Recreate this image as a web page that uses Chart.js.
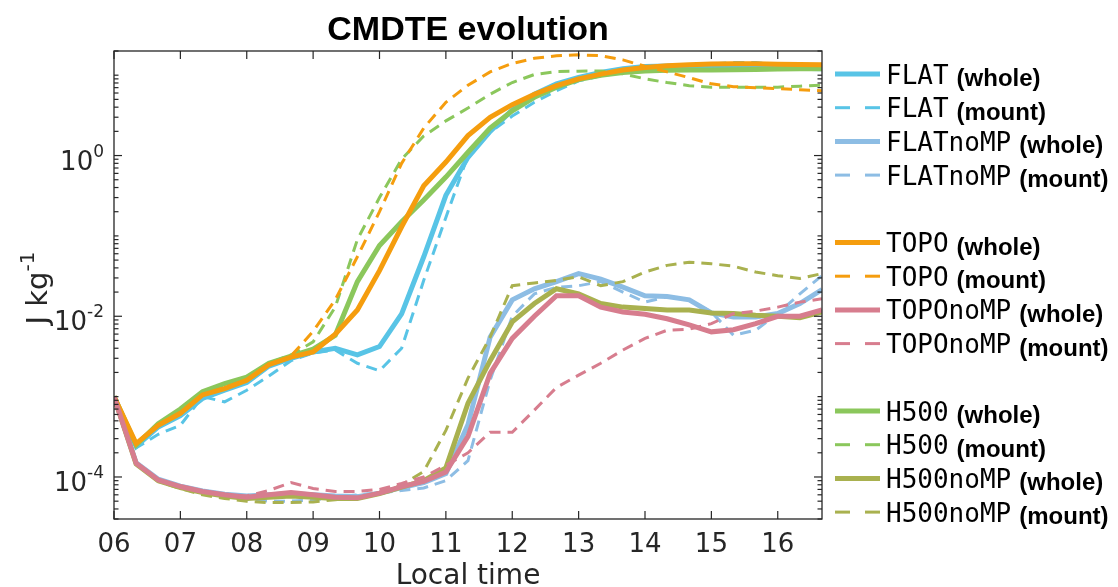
<!DOCTYPE html>
<html>
<head>
<meta charset="utf-8">
<title>CMDTE evolution</title>
<script src="https://cdn.jsdelivr.net/npm/chart.js@4.4.1/dist/chart.umd.min.js"></script>
<style>
  html, body { margin: 0; padding: 0; background: #fff; }
  #wrap { width: 1118px; height: 587px; }
</style>
</head>
<body>
<div id="wrap"><canvas id="grafico" width="1118" height="587"></canvas></div>
<script>
// horários (a cada 20 min)
const horarios = ['06:00','06:20','06:40','07:00','07:20','07:40','08:00','08:20','08:40',
  '09:00','09:20','09:40','10:00','10:20','10:40','11:00','11:20','11:40','12:00','12:20',
  '12:40','13:00','13:20','13:40','14:00','14:20','14:40','15:00','15:20','15:40','16:00',
  '16:20','16:40'];

// CMDTE (J/kg) por simulação
const flatWhole = [1.0e-3, 2.4e-4, 4.2e-4, 5.8e-4, 9.5e-4, 1.2e-3, 1.5e-3, 2.4e-3, 3.0e-3, 3.6e-3, 4.0e-3,
  3.3e-3, 4.2e-3, 1.07e-2, 5.5e-2, 0.32, 0.95, 2.0, 3.7, 5.8, 7.8, 9.4, 10.8, 12.0, 12.8, 13.0, 13.2,
  13.2, 13.2, 13.0, 12.6, 12.2, 12.0];
const flatMount = [1.0e-3, 2.3e-4, 3.4e-4, 4.4e-4, 1.0e-3, 8.6e-4, 1.2e-3, 1.8e-3, 2.8e-3, 3.5e-3, 3.8e-3,
  2.6e-3, 2.1e-3, 4.0e-3, 2.8e-2, 0.17, 1.0, 1.95, 3.1, 4.6, 6.4, 8.5, 9.8, 10.8, 12.0, 12.8, 13.3,
  13.8, 14.4, 14.4, 13.5, 12.8, 12.5];
const flatNoMPWhole = [1.0e-3, 1.5e-4, 9.4e-5, 7.7e-5, 6.7e-5, 6.1e-5, 5.8e-5, 6.0e-5, 6.2e-5, 6.0e-5, 5.8e-5,
  5.7e-5, 6.3e-5, 7.4e-5, 8.5e-5, 1.1e-4, 4.5e-4, 5.5e-3, 1.6e-2, 2.2e-2, 2.7e-2, 3.4e-2, 2.9e-2,
  2.3e-2, 1.8e-2, 1.76e-2, 1.6e-2, 1.1e-2, 9.8e-3, 9.8e-3, 1.08e-2, 1.44e-2, 2.15e-2];
const flatNoMPMount = [1.0e-3, 1.48e-4, 9.2e-5, 7.5e-5, 6.4e-5, 5.8e-5, 5.3e-5, 5.0e-5, 5.0e-5, 5.2e-5, 5.6e-5,
  6.0e-5, 6.3e-5, 6.8e-5, 7.3e-5, 9.0e-5, 1.6e-4, 1.6e-3, 1.0e-2, 1.9e-2, 2.3e-2, 2.4e-2, 2.7e-2,
  2.0e-2, 1.5e-2, 1.75e-2, 1.6e-2, 1.13e-2, 5.8e-3, 6.7e-3, 1.08e-2, 1.9e-2, 3.2e-2];

const topoWhole = [1.0e-3, 2.6e-4, 4.4e-4, 6.2e-4, 1.05e-3, 1.26e-3, 1.6e-3, 2.5e-3, 3.1e-3, 3.6e-3, 6.0e-3,
  1.2e-2, 3.7e-2, 0.13, 0.42, 0.83, 1.77, 3.0, 4.3, 5.8, 7.4, 9.0, 10.3, 11.6, 12.5, 13.1, 13.5,
  13.8, 13.9, 13.9, 13.7, 13.6, 13.5];
const topoMount = [1.0e-3, 2.6e-4, 4.4e-4, 6.2e-4, 1.05e-3, 1.3e-3, 1.6e-3, 2.5e-3, 3.2e-3, 6.5e-3, 1.6e-2,
  5.5e-2, 0.2, 0.8, 2.2, 4.6, 7.5, 11.0, 14.0, 16.2, 17.4, 17.9, 17.5, 15.5, 12.9, 11.0, 9.3,
  7.8, 7.2, 7.0, 6.8, 6.6, 6.4];
const topoNoMPWhole = [1.0e-3, 1.48e-4, 9.2e-5, 7.6e-5, 6.6e-5, 6.0e-5, 5.6e-5, 6.0e-5, 6.4e-5, 6.0e-5, 5.6e-5,
  5.5e-5, 6.3e-5, 7.6e-5, 8.8e-5, 1.15e-4, 3.2e-4, 1.95e-3, 5.3e-3, 1.0e-2, 1.8e-2, 1.8e-2, 1.3e-2,
  1.13e-2, 1.06e-2, 9.3e-3, 7.8e-3, 6.4e-3, 6.8e-3, 8.1e-3, 1.0e-2, 1.0e-2, 1.2e-2];
const topoNoMPMount = [1.0e-3, 1.48e-4, 9.2e-5, 7.6e-5, 6.6e-5, 6.0e-5, 5.8e-5, 6.8e-5, 8.5e-5, 7.2e-5, 6.6e-5,
  6.6e-5, 7.0e-5, 8.3e-5, 1.0e-4, 1.4e-4, 2.0e-4, 3.6e-4, 3.6e-4, 6.8e-4, 1.3e-3, 1.85e-3, 2.6e-3,
  3.8e-3, 5.3e-3, 6.7e-3, 6.9e-3, 8.1e-3, 1.08e-2, 1.16e-2, 1.3e-2, 1.5e-2, 1.65e-2];

const h500Whole = [1.0e-3, 2.5e-4, 4.6e-4, 7.0e-4, 1.15e-3, 1.45e-3, 1.75e-3, 2.6e-3, 3.2e-3, 3.9e-3, 5.8e-3,
  2.7e-2, 7.6e-2, 0.15, 0.28, 0.54, 1.1, 2.2, 3.6, 5.3, 7.1, 8.8, 10.0, 10.8, 11.3, 11.5, 11.6,
  11.6, 11.7, 11.8, 11.9, 12.0, 12.0];
const h500Mount = [1.0e-3, 2.5e-4, 4.6e-4, 7.0e-4, 1.15e-3, 1.45e-3, 1.75e-3, 2.6e-3, 3.3e-3, 4.8e-3, 1.3e-2,
  9.0e-2, 0.30, 0.9, 1.75, 2.7, 3.9, 5.8, 8.1, 10.2, 11.1, 11.2, 11.3, 10.4, 9.0, 8.1, 7.4,
  7.1, 7.1, 7.1, 7.1, 7.3, 7.5];
const h500NoMPWhole = [1.0e-3, 1.45e-4, 9.0e-5, 7.4e-5, 6.4e-5, 5.8e-5, 5.4e-5, 5.6e-5, 5.8e-5, 5.6e-5, 5.4e-5,
  5.4e-5, 6.2e-5, 7.5e-5, 9.0e-5, 1.3e-4, 8.3e-4, 2.8e-3, 8.5e-3, 1.44e-2, 2.2e-2, 1.9e-2, 1.44e-2,
  1.3e-2, 1.25e-2, 1.2e-2, 1.2e-2, 1.1e-2, 1.08e-2, 1.03e-2, 1.0e-2, 9.6e-3, 1.13e-2];
const h500NoMPMount = [1.0e-3, 1.45e-4, 8.8e-5, 7.2e-5, 6.0e-5, 5.4e-5, 5.0e-5, 4.8e-5, 4.8e-5, 4.9e-5, 5.2e-5,
  5.5e-5, 6.3e-5, 8.0e-5, 1.17e-4, 3.8e-4, 1.7e-3, 5.5e-3, 2.4e-2, 2.6e-2, 2.8e-2, 3.1e-2, 2.4e-2,
  2.7e-2, 3.55e-2, 4.3e-2, 4.7e-2, 4.5e-2, 4.2e-2, 3.55e-2, 3.2e-2, 2.95e-2, 3.4e-2];

// eixos
const xTicks = [6, 7, 8, 9, 10, 11, 12, 13, 14, 15, 16];
const xTickLabels = ['06', '07', '08', '09', '10', '11', '12', '13', '14', '15', '16'];
const yTicks = [1e-4, 1e-2, 1];
const yTickExps = ['-4', '-2', '0'];
const xMin = 6, xMax = 16 + 40 / 60;
const yMin = 3e-5, yMax = 20;

const corEixo = '#262626';
const cores = {
  FLAT: '#58C4E6', FLATnoMP: '#8DBDE4',
  TOPO: '#F59D0E', TOPOnoMP: '#D77D8E',
  H500: '#8BC75C', H500noMP: '#A9B14F'
};

function horas(h) {
  const [hh, mm] = h.split(':').map(Number);
  return hh + mm / 60;
}
const xs = horarios.map(horas);
const pontos = serie => serie.map((v, i) => ({ x: xs[i], y: v }));

// ordem da legenda; "camada" controla quem fica por cima (menor = por cima)
const series = [
  { nome: 'FLAT', parte: 'whole', dados: flatWhole, cor: cores.FLAT, camada: 11 },
  { nome: 'FLAT', parte: 'mount', dados: flatMount, cor: cores.FLAT, camada: 10 },
  { nome: 'FLATnoMP', parte: 'whole', dados: flatNoMPWhole, cor: cores.FLATnoMP, camada: 9 },
  { nome: 'FLATnoMP', parte: 'mount', dados: flatNoMPMount, cor: cores.FLATnoMP, camada: 8 },
  { nome: 'TOPO', parte: 'whole', dados: topoWhole, cor: cores.TOPO, camada: 3 },
  { nome: 'TOPO', parte: 'mount', dados: topoMount, cor: cores.TOPO, camada: 2 },
  { nome: 'TOPOnoMP', parte: 'whole', dados: topoNoMPWhole, cor: cores.TOPOnoMP, camada: 1 },
  { nome: 'TOPOnoMP', parte: 'mount', dados: topoNoMPMount, cor: cores.TOPOnoMP, camada: 0 },
  { nome: 'H500', parte: 'whole', dados: h500Whole, cor: cores.H500, camada: 7 },
  { nome: 'H500', parte: 'mount', dados: h500Mount, cor: cores.H500, camada: 6 },
  { nome: 'H500noMP', parte: 'whole', dados: h500NoMPWhole, cor: cores.H500noMP, camada: 5 },
  { nome: 'H500noMP', parte: 'mount', dados: h500NoMPMount, cor: cores.H500noMP, camada: 4 }
];

const datasets = series.map(s => ({
  label: s.nome + ' (' + s.parte + ')',
  data: pontos(s.dados),
  borderColor: s.cor,
  borderWidth: s.parte === 'whole' ? 5 : 3,
  borderDash: s.parte === 'whole' ? [] : [11, 7],
  pointRadius: 0,
  tension: 0,
  fill: false,
  order: s.camada
}));

function linha(ctx, x1, y1, x2, y2) {
  ctx.beginPath();
  ctx.moveTo(x1, y1);
  ctx.lineTo(x2, y2);
  ctx.stroke();
}

// moldura, ticks, rótulos, título e legenda
const moldura = {
  id: 'moldura',
  afterDatasetsDraw(chart) {
    const { ctx, chartArea: a, scales: { x, y } } = chart;
    ctx.save();
    ctx.strokeStyle = corEixo;
    ctx.fillStyle = corEixo;
    ctx.lineWidth = 1.3;
    ctx.setLineDash([]);
    ctx.strokeRect(a.left, a.top, a.right - a.left, a.bottom - a.top);

    // ticks do eixo x (para dentro, em cima e embaixo)
    ctx.lineWidth = 1.2;
    xTicks.forEach(t => {
      const px = x.getPixelForValue(t);
      linha(ctx, px, a.bottom, px, a.bottom - 8);
      linha(ctx, px, a.top, px, a.top + 8);
    });

    // ticks do eixo y: décadas principais e secundários
    for (let e = -5; e <= 1; e++) {
      for (let m = 1; m <= 9; m++) {
        const v = m * Math.pow(10, e);
        if (v < yMin || v > yMax) continue;
        const py = y.getPixelForValue(v);
        const principal = yTicks.some(t => Math.abs(Math.log10(t) - Math.log10(v)) < 1e-9);
        const len = principal ? 8 : 4.5;
        linha(ctx, a.left, py, a.left + len, py);
        linha(ctx, a.right, py, a.right - len, py);
      }
    }

    // rótulos do eixo x
    ctx.font = '26px "DejaVu Sans"';
    ctx.textAlign = 'center';
    ctx.textBaseline = 'alphabetic';
    xTicks.forEach((t, i) => {
      ctx.fillText(xTickLabels[i], x.getPixelForValue(t), a.bottom + 33);
    });
    ctx.font = '28px "DejaVu Sans"';
    ctx.fillText('Local time', (a.left + a.right) / 2, a.bottom + 65);

    // rótulos do eixo y (10 com expoente)
    ctx.textAlign = 'left';
    yTicks.forEach((t, i) => {
      const py = y.getPixelForValue(t);
      ctx.font = '17px "DejaVu Sans"';
      const wExp = ctx.measureText(yTickExps[i]).width;
      ctx.font = '26px "DejaVu Sans"';
      const wBase = ctx.measureText('10').width;
      const dir = a.left - 10;
      ctx.fillText('10', dir - wExp - wBase, py + 14);
      ctx.font = '17px "DejaVu Sans"';
      ctx.fillText(yTickExps[i], dir - wExp, py + 1);
    });

    // título do eixo y
    ctx.save();
    ctx.translate(47, 288);
    ctx.rotate(-Math.PI / 2);
    ctx.font = '29px "DejaVu Sans"';
    const wUn = ctx.measureText('J kg').width;
    ctx.font = '20px "DejaVu Sans"';
    const wSup = ctx.measureText('-1').width;
    const x0 = -(wUn + wSup) / 2;
    ctx.font = '29px "DejaVu Sans"';
    ctx.fillText('J kg', x0, 0);
    ctx.font = '20px "DejaVu Sans"';
    ctx.fillText('-1', x0 + wUn, -13);
    ctx.restore();

    // título
    ctx.fillStyle = '#000';
    ctx.font = 'bold 34px "Liberation Sans"';
    ctx.textAlign = 'center';
    ctx.fillText('CMDTE evolution', (a.left + a.right) / 2, 40);

    // legenda em grupos de quatro
    ctx.textAlign = 'left';
    chart.data.datasets.forEach((ds, i) => {
      const k = i + Math.floor(i / 4);
      const ly = 74 + k * 33.7;
      ctx.strokeStyle = ds.borderColor;
      ctx.lineWidth = ds.borderWidth;
      ctx.setLineDash(ds.borderDash.length ? [15, 15] : []);
      linha(ctx, 835, ly, 880, ly);
      ctx.setLineDash([]);
      const s = series[i];
      ctx.fillStyle = '#000';
      ctx.font = '26px "DejaVu Sans Mono"';
      ctx.fillText(s.nome, 886, ly + 9.5);
      const w = ctx.measureText(s.nome).width;
      ctx.font = 'bold 24px "Liberation Sans"';
      ctx.fillText('(' + s.parte + ')', 886 + w + 8, ly + 12);
    });
    ctx.restore();
  }
};

new Chart(document.getElementById('grafico'), {
  type: 'line',
  data: { datasets },
  options: {
    responsive: false,
    devicePixelRatio: 1,
    animation: false,
    layout: { padding: { left: 114, right: 296, top: 51, bottom: 68 } },
    plugins: {
      legend: { display: false },
      title: { display: false },
      tooltip: { enabled: false }
    },
    scales: {
      x: { type: 'linear', min: xMin, max: xMax, display: false },
      y: {
        type: 'logarithmic', min: yMin, max: yMax, display: false,
        afterBuildTicks: s => { s.min = yMin; s.max = yMax; }
      }
    }
  },
  plugins: [moldura]
});
</script>
</body>
</html>
